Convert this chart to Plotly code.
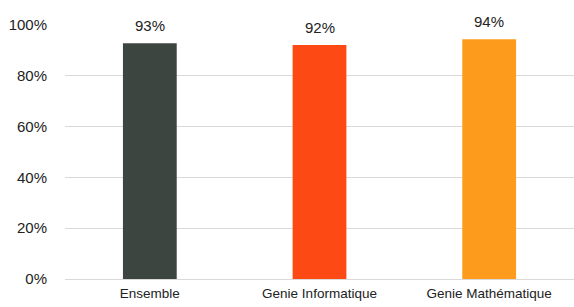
import plotly.graph_objects as go

categories = ["Ensemble", "Genie Informatique", "Genie Mathématique"]
values = [0.928, 0.921, 0.944]
colors = ["#3D4541", "#FD4A14", "#FD9C1C"]
tick_vals = [0, 0.2, 0.4, 0.6, 0.8, 1.0]
tick_text = ["0%", "20%", "40%", "60%", "80%", "100%"]

FONT = "Liberation Sans, Arial, sans-serif"

fig = go.Figure()
fig.add_trace(go.Bar(
    x=categories, y=values, marker=dict(color=colors, line=dict(width=0)),
    width=0.317, hoverinfo="skip",
))
for c, v in zip(categories, values):
    fig.add_annotation(x=c, y=v, text=f"{round(v*100)}%", showarrow=False,
                       yanchor="bottom", yshift=7,
                       font=dict(family=FONT, size=15, color="#222222"))

fig.update_layout(
    width=574, height=307,
    margin=dict(l=65, r=0, t=25, b=28),
    paper_bgcolor="white", plot_bgcolor="white",
    showlegend=False,
    font=dict(family=FONT, size=15, color="#222222"),
)
fig.update_xaxes(showgrid=False, showline=False, ticks="", tickfont=dict(size=13.5),
                 range=[-0.5, 2.5], automargin=False, ticklabelstandoff=4)
fig.update_yaxes(range=[0, 1.0], tickvals=tick_vals, ticktext=tick_text,
                 showgrid=True, gridcolor="#D9D9D9", gridwidth=1,
                 zeroline=True, zerolinecolor="#D9D9D9", zerolinewidth=1,
                 showline=False, ticks="", ticklabelstandoff=17,
                 tickfont=dict(size=15), automargin=False)

fig.write_html("out.html", config={"displayModeBar": False},
               post_script="document.body.style.margin='0';document.body.style.overflow='hidden';")
